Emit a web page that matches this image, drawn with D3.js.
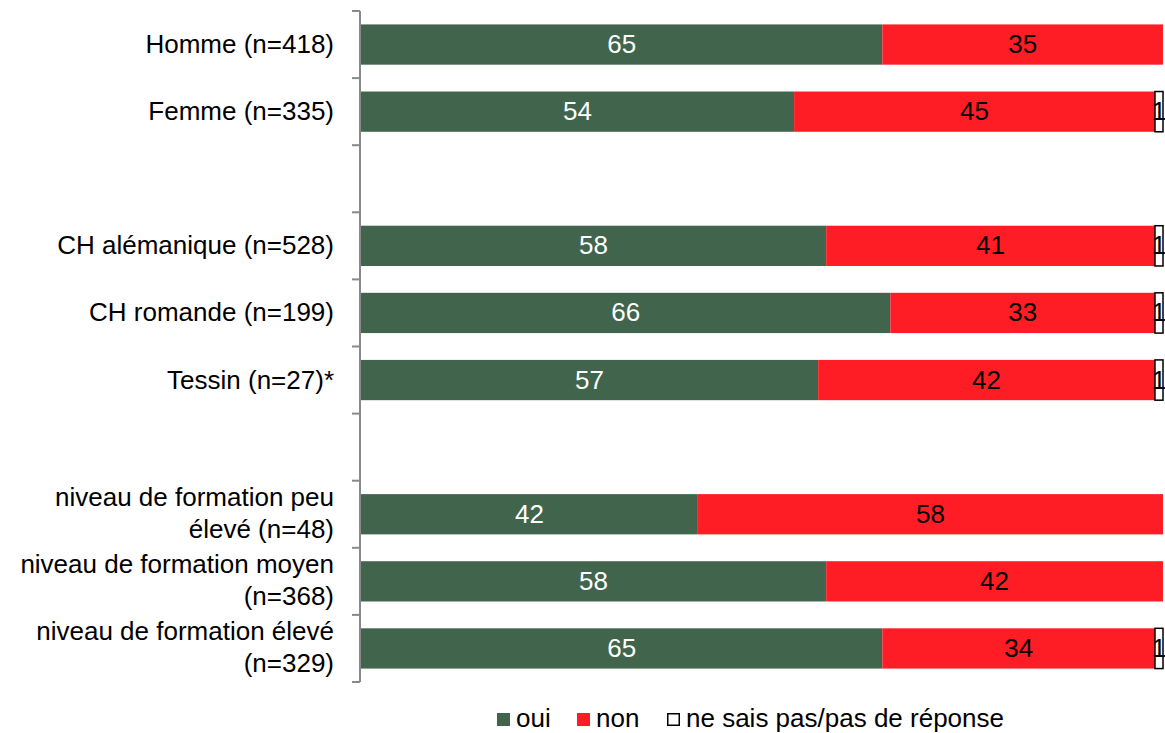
<!DOCTYPE html>
<html><head><meta charset="utf-8">
<script src="https://cdn.jsdelivr.net/npm/d3@7"></script>
<style>body{margin:0;background:#fff;} text{font-family:"Liberation Sans",Arial,sans-serif;}</style>
</head><body>
<svg id="c" width="1165" height="733"></svg>
<script>
const categories = [
  ["Homme (n=418)"],
  ["Femme (n=335)"],
  null,
  ["CH alémanique (n=528)"],
  ["CH romande (n=199)"],
  ["Tessin (n=27)*"],
  null,
  ["niveau de formation peu", "élevé (n=48)"],
  ["niveau de formation moyen", "(n=368)"],
  ["niveau de formation élevé", "(n=329)"]
];
const oui  = [65, 54, null, 58, 66, 57, null, 42, 58, 65];
const non  = [35, 45, null, 41, 33, 42, null, 58, 42, 34];
const nsp  = [0, 1, null, 1, 1, 1, null, 0, 0, 1];
const seriesNames = ["oui", "non", "ne sais pas/pas de réponse"];
const colors = ["#40644C", "#FF1D25", "#FFFFFF"];
const textColors = ["#FFFFFF", "#000000", "#000000"];
const FS = 26;

const svg = d3.select("#c");
const x = d3.scaleLinear().domain([0, 100]).range([361, 1163]);
const y = d3.scaleBand().domain(d3.range(categories.length)).range([11, 682]).paddingInner(0.4).paddingOuter(0.2);
const slot = d3.scaleBand().domain(d3.range(categories.length)).range([11, 682]);

const data = [oui, non, nsp];
categories.forEach((c, i) => {
  if (!c) return;
  let acc = 0;
  const cy = y(i) + y.bandwidth() / 2;
  data.forEach((s, k) => {
    const v = s[i];
    if (!v) return;
    const x0 = x(acc), x1 = x(acc + v);
    svg.append("rect")
      .attr("x", x0).attr("y", y(i))
      .attr("width", x1 - x0).attr("height", y.bandwidth())
      .attr("fill", colors[k])
      .attr("stroke", k === 2 ? "#000" : "none")
      .attr("stroke-width", k === 2 ? 1.5 : 0);
    svg.append("text")
      .attr("x", (x0 + x1) / 2).attr("y", cy + 8.5)
      .attr("text-anchor", "middle")
      .attr("font-size", FS).attr("fill", textColors[k])
      .text(v);
    acc += v;
  });
  const t = svg.append("text").attr("text-anchor", "end").attr("font-size", FS).attr("fill", "#000");
  if (c.length === 1) {
    t.append("tspan").attr("x", 334).attr("y", cy + 8.5).text(c[0]);
  } else {
    t.append("tspan").attr("x", 334).attr("y", cy - 8.5).text(c[0]);
    t.append("tspan").attr("x", 334).attr("y", cy + 24).text(c[1]);
  }
});

// axis
const axisG = svg.append("g");
axisG.append("line").attr("x1", 360).attr("x2", 360).attr("y1", 11).attr("y2", 682)
  .attr("stroke", "#898989").attr("stroke-width", 2);
d3.range(categories.length + 1).forEach(j => {
  const ty = j < categories.length ? slot(j) : 682;
  axisG.append("line").attr("x1", 352).attr("x2", 360).attr("y1", ty).attr("y2", ty)
    .attr("stroke", "#898989").attr("stroke-width", 2);
});

// legend
const legendX = [497, 577, 667];
seriesNames.forEach((n, k) => {
  const inset = k === 2 ? 0.75 : 0;
  svg.append("rect").attr("x", legendX[k] + inset).attr("y", 713 + inset)
    .attr("width", 13 - 2 * inset).attr("height", 13 - 2 * inset)
    .attr("fill", colors[k]).attr("stroke", k === 2 ? "#000" : "none").attr("stroke-width", 1.5);
  svg.append("text").attr("x", legendX[k] + 19).attr("y", 727)
    .attr("font-size", FS).attr("fill", "#000").text(n);
});
</script>
</body></html>
